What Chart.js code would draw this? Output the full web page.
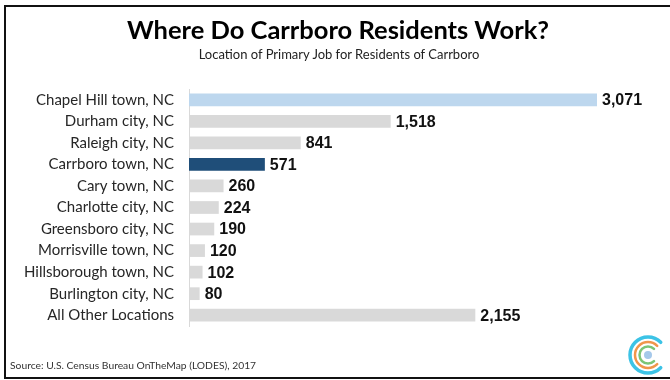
<!DOCTYPE html>
<html>
<head>
<meta charset="utf-8">
<script src="https://cdn.jsdelivr.net/npm/chart.js@4"></script>
<style>
  html, body { margin: 0; padding: 0; background: #fff; }
  #wrap { position: relative; width: 670px; height: 380px; overflow: hidden; }
  #frame { position: absolute; left: 4px; top: 5px; width: 700px; height: 370px; border: 2px solid #111; border-right: none; }
  #titulo { position: absolute; left: 0; width: 676px; top: 14px; text-align: center; font: bold 25.5px Lato, sans-serif; color: #000; }
  #subtitulo { position: absolute; left: 0; width: 678px; top: 46px; text-align: center; font: 13px Lato, sans-serif; color: #222; }
  #fonte { position: absolute; left: 10px; top: 359px; font: 10.3px Lato, sans-serif; color: #333; }
  #grafico { position: absolute; left: 0; top: 0; }
</style>
</head>
<body>
<div id="wrap">
  <div id="frame"></div>
  <canvas id="grafico" width="670" height="380"></canvas>
  <div id="titulo">Where Do Carrboro Residents Work?</div>
  <div id="subtitulo">Location of Primary Job for Residents of Carrboro</div>
  <div id="fonte">Source: U.S. Census Bureau OnTheMap (LODES), 2017</div>
</div>
<script>
// dados
const locais = ['Chapel Hill town, NC', 'Durham city, NC', 'Raleigh city, NC', 'Carrboro town, NC',
  'Cary town, NC', 'Charlotte city, NC', 'Greensboro city, NC', 'Morrisville town, NC',
  'Hillsborough town, NC', 'Burlington city, NC', 'All Other Locations'];
const trabalhadores = [3071, 1518, 841, 571, 260, 224, 190, 120, 102, 80, 2155];
const coresBarras = ['#bdd7ee', '#d9d9d9', '#d9d9d9', '#1f4e79', '#d9d9d9', '#d9d9d9',
  '#d9d9d9', '#d9d9d9', '#d9d9d9', '#d9d9d9', '#d9d9d9'];

// rótulos com o valor no fim de cada barra
const rotulosValor = {
  id: 'rotulosValor',
  afterDatasetsDraw(chart) {
    const ctx = chart.ctx;
    const meta = chart.getDatasetMeta(0);
    ctx.save();
    ctx.font = 'bold 16px "Liberation Sans", Arial, sans-serif';
    ctx.fillStyle = '#111';
    ctx.textAlign = 'left';
    ctx.textBaseline = 'middle';
    meta.data.forEach((bar, i) => {
      ctx.fillText(trabalhadores[i].toLocaleString('en-US'), bar.x + 5, bar.y + 1);
    });
    ctx.restore();
  }
};

// logotipo (arcos concêntricos) no canto inferior direito
const logotipo = {
  id: 'logotipo',
  afterDraw(chart) {
    const ctx = chart.ctx;
    const cx = 648, cy = 355;
    const arcos = [[18, '#3cc3e6', 3.5], [13, '#f0964b', 2.5], [8.5, '#7cc576', 2.5]];
    ctx.save();
    ctx.lineCap = 'round';
    arcos.forEach(([r, cor, w]) => {
      ctx.beginPath();
      ctx.strokeStyle = cor;
      ctx.lineWidth = w;
      ctx.arc(cx, cy, r, Math.PI * 0.25, Math.PI * 1.75, false);
      ctx.stroke();
    });
    ctx.beginPath();
    ctx.fillStyle = '#a5c8ea';
    ctx.arc(cx, cy, 4, 0, Math.PI * 2);
    ctx.fill();
    ctx.restore();
  }
};

new Chart(document.getElementById('grafico'), {
  type: 'bar',
  data: {
    labels: locais,
    datasets: [{
      data: trabalhadores,
      backgroundColor: coresBarras,
      borderWidth: 0,
      barPercentage: 0.59,
      categoryPercentage: 1
    }]
  },
  options: {
    indexAxis: 'y',
    responsive: false,
    animation: false,
    layout: { padding: { top: 89, bottom: 54, left: 0, right: 16 } },
    plugins: { legend: { display: false }, tooltip: { enabled: false } },
    scales: {
      x: { display: false, min: 0, max: 3500 },
      y: {
        afterFit: (escala) => { escala.width = 189; },
        grid: { display: false, drawTicks: false },
        border: { display: true, color: '#d9d9d9', width: 1 },
        ticks: { padding: 15, color: '#262626', font: { family: 'Lato', size: 15 } }
      }
    }
  },
  plugins: [rotulosValor, logotipo]
});
</script>
</body>
</html>
